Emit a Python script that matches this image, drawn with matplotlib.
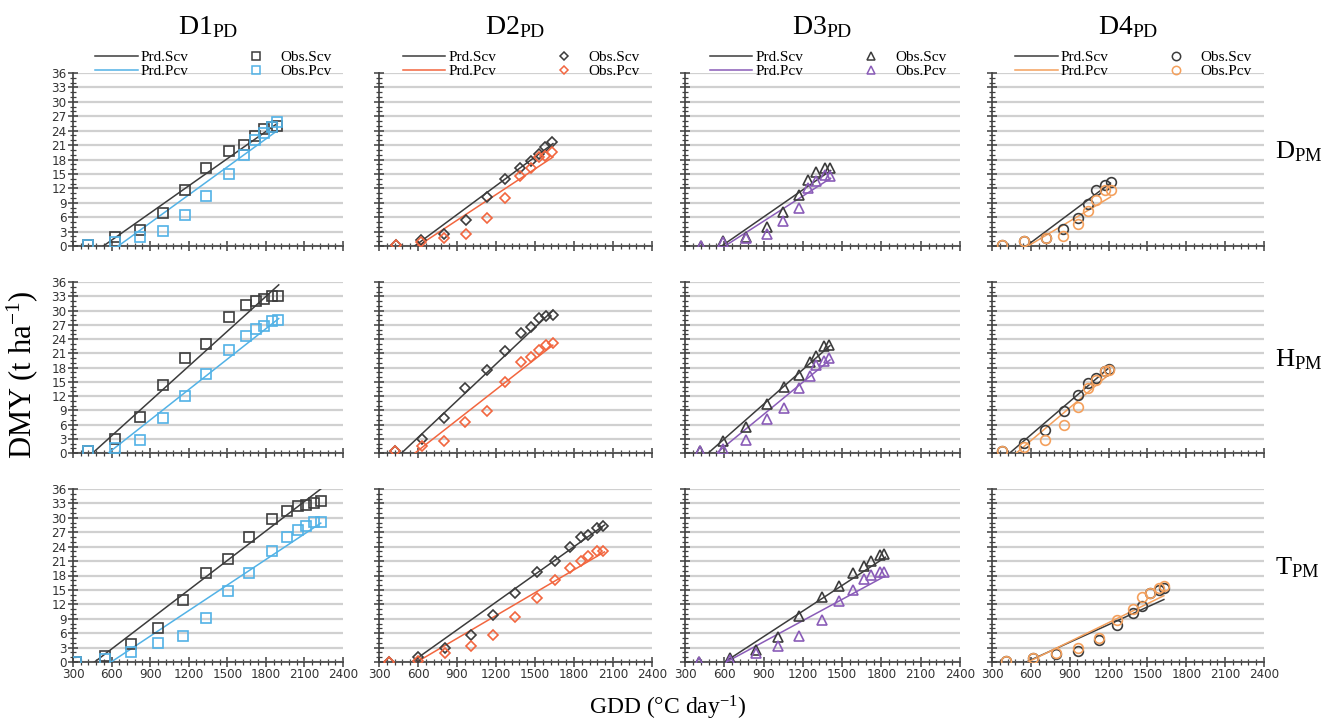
import numpy as np
import matplotlib.pyplot as plt
from matplotlib.ticker import MultipleLocator
from matplotlib.lines import Line2D

plt.rcParams['font.family'] = ['Liberation Serif', 'DejaVu Serif']
plt.rcParams['mathtext.fontset'] = 'custom'
plt.rcParams['mathtext.rm'] = 'Liberation Serif'
plt.rcParams['mathtext.it'] = 'Liberation Serif:italic'

# ---- data: GDD of sampling, observed DMY (Scv / Pcv), predicted lines ----
# D1, row D_PM
d1_d_gdd = [414, 627, 824, 997, 1171, 1337, 1516, 1632, 1716, 1786, 1845, 1889]
d1_d_scv = [0.3, 1.8, 3.3, 6.8, 11.6, 16.2, 19.8, 21.0, 22.9, 24.4, 24.8, 25.0]
d1_d_pcv = [0.3, 0.8, 1.9, 3.1, 6.4, 10.4, 15.0, 18.9, 22.0, 23.6, 24.8, 25.8]
d1_d_prd_s = ([536, 1889], [0, 25.5])
d1_d_prd_p = ([652, 1889], [0, 24.0])
# D1, row H_PM
d1_h_gdd = [414, 627, 824, 997, 1173, 1337, 1516, 1643, 1726, 1786, 1845, 1894]
d1_h_scv = [0.35, 3.0, 7.5, 14.4, 20.0, 23.0, 28.6, 31.1, 31.9, 32.4, 33.0, 33.0]
d1_h_pcv = [0.35, 1.1, 2.8, 7.3, 12.0, 16.6, 21.6, 24.7, 26.1, 26.8, 27.8, 27.9]
d1_h_prd_s = ([453, 1900], [0, 35.4])
d1_h_prd_p = ([575, 1900], [0, 28.3])
# D1, row T_PM
d1_t_gdd = [326, 550, 749, 960, 1159, 1334, 1502, 1665, 1848, 1967, 2052, 2111, 2178, 2225]
d1_t_scv = [0.1, 1.2, 3.7, 7.1, 12.9, 18.6, 21.4, 26.1, 29.7, 31.5, 32.4, 32.6, 33.0, 33.4]
d1_t_pcv = [0.1, 0.6, 2.0, 3.9, 5.5, 9.2, 14.7, 18.5, 23.2, 26.0, 27.5, 28.3, 29.1, 29.2]
d1_t_prd_s = ([468, 2227], [0, 36.0])
d1_t_prd_p = ([597, 2227], [0, 28.9])

# D2
d2_d_gdd = [428, 621, 797, 967, 1128, 1272, 1385, 1469, 1528, 1574, 1633]
d2_d_scv = [0.2, 1.3, 2.4, 5.5, 10.3, 14.0, 16.2, 17.6, 19.2, 20.6, 21.6]
d2_d_pcv = [0.2, 0.8, 1.7, 2.6, 5.8, 9.9, 14.5, 16.2, 18.5, 18.7, 19.5]
d2_d_prd_s = ([574, 1638], [0, 21.3])
d2_d_prd_p = ([600, 1638], [0, 18.5])
d2_h_gdd = [425, 628, 802, 963, 1127, 1268, 1391, 1468, 1532, 1583, 1637]
d2_h_scv = [0.4, 2.9, 7.4, 13.6, 17.4, 21.4, 25.2, 26.6, 28.5, 28.8, 29.0]
d2_h_pcv = [0.4, 1.5, 2.6, 6.5, 8.8, 14.9, 19.1, 20.3, 21.6, 22.8, 23.1]
d2_h_prd_s = ([474, 1637], [0, 30.0])
d2_h_prd_p = ([577, 1637], [0, 22.7])
d2_t_gdd = [377, 599, 808, 1006, 1176, 1346, 1514, 1650, 1771, 1851, 1910, 1980, 2026]
d2_t_scv = [0.1, 1.0, 2.9, 5.7, 9.7, 14.3, 18.7, 21.1, 23.9, 26.0, 26.5, 27.9, 28.3]
d2_t_pcv = [0.1, 0.3, 1.8, 3.4, 5.7, 9.3, 13.4, 17.0, 19.5, 21.1, 22.0, 23.0, 23.0]
d2_t_prd_s = ([553, 2034], [0, 28.5])
d2_t_prd_p = ([591, 2034], [0, 22.9])

# D3
d3_d_gdd = [420, 593, 763, 924, 1051, 1173, 1242, 1303, 1367, 1407]
d3_d_scv = [0.1, 1.0, 1.9, 4.0, 7.1, 10.7, 13.7, 15.5, 16.2, 16.2]
d3_d_pcv = [0.1, 0.9, 1.6, 2.4, 5.3, 7.9, 12.1, 13.5, 14.7, 14.6]
d3_d_prd_s = ([580, 1412], [0, 15.7])
d3_d_prd_p = ([605, 1412], [0, 14.1])
d3_h_gdd = [415, 588, 763, 924, 1056, 1168, 1252, 1303, 1364, 1400]
d3_h_scv = [0.4, 2.5, 5.4, 10.4, 13.9, 16.4, 19.1, 20.4, 22.5, 22.8]
d3_h_pcv = [0.4, 0.8, 2.7, 7.2, 9.5, 13.6, 16.3, 18.6, 19.4, 20.0]
d3_h_prd_s = ([478, 1407], [0, 22.6])
d3_h_prd_p = ([542, 1407], [0, 19.6])
d3_t_gdd = [410, 641, 839, 1009, 1173, 1345, 1476, 1586, 1668, 1722, 1789, 1822]
d3_t_scv = [0.1, 0.8, 2.4, 5.3, 9.5, 13.6, 15.8, 18.5, 19.9, 21.0, 22.2, 22.4]
d3_t_pcv = [0.1, 0.4, 1.8, 3.3, 5.4, 8.7, 12.6, 15.0, 17.3, 18.2, 18.7, 18.8]
d3_t_prd_s = ([603, 1830], [0, 21.8])
d3_t_prd_p = ([616, 1830], [0, 17.9])

# D4
d4_d_gdd = [380, 547, 715, 849, 967, 1045, 1104, 1176, 1215]
d4_d_scv = [0.3, 1.0, 1.7, 3.5, 5.8, 8.8, 11.7, 12.7, 13.3]
d4_d_pcv = [0.3, 1.0, 1.6, 2.1, 4.5, 7.2, 9.6, 11.6, 11.6]
d4_d_prd_s = ([565, 1215], [0, 13.1])
d4_d_prd_p = ([578, 1215], [0, 10.2])
d4_h_gdd = [380, 547, 712, 853, 962, 1044, 1106, 1173, 1206]
d4_h_scv = [0.4, 2.2, 4.9, 8.8, 12.3, 14.8, 15.7, 17.2, 17.7]
d4_h_pcv = [0.4, 1.3, 2.7, 6.0, 9.7, 13.6, 15.4, 17.2, 17.5]
d4_h_prd_s = ([437, 1206], [0, 18.0])
d4_h_prd_p = ([488, 1206], [0, 16.6])
d4_t_gdd = [406, 617, 792, 965, 1127, 1266, 1385, 1457, 1519, 1588, 1627]
d4_t_scv = [0.2, 0.8, 1.6, 2.3, 4.6, 7.7, 10.2, 11.7, 14.4, 14.9, 15.4]
d4_t_pcv = [0.2, 0.9, 1.8, 2.9, 4.9, 8.7, 11.0, 13.5, 14.4, 15.4, 15.9]
d4_t_prd_s = ([565, 1627], [0, 13.0])
d4_t_prd_p = ([578, 1627], [0, 13.8])

col_titles = ['D1', 'D2', 'D3', 'D4']
row_titles = ['D', 'H', 'T']
pcv_colors = ['#52b2e6', '#f2663f', '#8a5cb8', '#f4a05c']
scv_color = '#3c3c3c'
markers = ['s', 'D', '^', 'o']
msizes = [7, 5.5, 7, 7]

panels = [
    [(d1_d_gdd, d1_d_scv, d1_d_pcv, d1_d_prd_s, d1_d_prd_p),
     (d2_d_gdd, d2_d_scv, d2_d_pcv, d2_d_prd_s, d2_d_prd_p),
     (d3_d_gdd, d3_d_scv, d3_d_pcv, d3_d_prd_s, d3_d_prd_p),
     (d4_d_gdd, d4_d_scv, d4_d_pcv, d4_d_prd_s, d4_d_prd_p)],
    [(d1_h_gdd, d1_h_scv, d1_h_pcv, d1_h_prd_s, d1_h_prd_p),
     (d2_h_gdd, d2_h_scv, d2_h_pcv, d2_h_prd_s, d2_h_prd_p),
     (d3_h_gdd, d3_h_scv, d3_h_pcv, d3_h_prd_s, d3_h_prd_p),
     (d4_h_gdd, d4_h_scv, d4_h_pcv, d4_h_prd_s, d4_h_prd_p)],
    [(d1_t_gdd, d1_t_scv, d1_t_pcv, d1_t_prd_s, d1_t_prd_p),
     (d2_t_gdd, d2_t_scv, d2_t_pcv, d2_t_prd_s, d2_t_prd_p),
     (d3_t_gdd, d3_t_scv, d3_t_pcv, d3_t_prd_s, d3_t_prd_p),
     (d4_t_gdd, d4_t_scv, d4_t_pcv, d4_t_prd_s, d4_t_prd_p)],
]

W, H = 1333, 725
col_px = [(73, 343), (379, 652), (685, 960), (992, 1264)]
row_px = [(73, 246), (282, 453), (489, 662)]

fig = plt.figure(figsize=(W / 100, H / 100), dpi=100)

for r in range(3):
    for c in range(4):
        x0, x1 = col_px[c]
        y0, y1 = row_px[r]
        ax = fig.add_axes([x0 / W, 1 - y1 / H, (x1 - x0) / W, (y1 - y0) / H])
        gdd, scv, pcv, prd_s, prd_p = panels[r][c]
        col = pcv_colors[c]

        ax.plot(prd_s[0], prd_s[1], color=scv_color, lw=1.1, zorder=3)
        ax.plot(prd_p[0], prd_p[1], color=col, lw=1.1, zorder=3)
        ax.plot(gdd, scv, ls='none', marker=markers[c], ms=msizes[c], mfc='none',
                mec=scv_color, mew=1.2, zorder=4)
        ax.plot(gdd, pcv, ls='none', marker=markers[c], ms=msizes[c], mfc='none',
                mec=col, mew=1.2, zorder=5)

        ax.set_xlim(300, 2400)
        ax.set_ylim(0, 36)
        ax.set_xticks(np.arange(300, 2401, 300))
        ax.set_yticks(np.arange(0, 37, 3))
        ax.xaxis.set_minor_locator(MultipleLocator(60))
        ax.yaxis.set_minor_locator(MultipleLocator(1))
        ax.yaxis.grid(True, color='#d0d0d0', lw=1.6)
        ax.set_axisbelow(True)
        for s in ['top', 'right']:
            ax.spines[s].set_visible(False)
        for s in ['left', 'bottom']:
            ax.spines[s].set_color('#404040')
            ax.spines[s].set_linewidth(1.2)
        ax.tick_params(which='major', direction='inout', length=7, width=1.1,
                       color='#404040', labelsize=9.5, labelcolor='#333333', pad=1)
        ax.tick_params(which='minor', direction='inout', length=4, width=0.9,
                       color='#404040')
        ax.tick_params(labelleft=(c == 0), labelbottom=(r == 2))
        for lab in ax.get_xticklabels() + ax.get_yticklabels():
            lab.set_family('DejaVu Sans')
            lab.set_stretch('condensed')

        if r == 0:
            handles = [
                Line2D([], [], color=scv_color, lw=1.1),
                Line2D([], [], color=col, lw=1.1),
                Line2D([], [], ls='none', marker=markers[c], ms=msizes[c] - 1,
                       mfc='none', mec=scv_color, mew=1.1),
                Line2D([], [], ls='none', marker=markers[c], ms=msizes[c] - 1,
                       mfc='none', mec=col, mew=1.1),
            ]
            ax.legend(handles, ['Prd.Scv', 'Prd.Pcv', 'Obs.Scv', 'Obs.Pcv'],
                      ncol=2, loc='center', bbox_to_anchor=(0.52, 1.05),
                      frameon=False, fontsize=11, handlelength=2.8,
                      columnspacing=3.0, labelspacing=0.0, handletextpad=0.2,
                      borderpad=0)
            fig.text((x0 + x1) / 2 / W, 1 - 27 / H,
                     col_titles[c] + r'$_{\mathrm{PD}}$', ha='center', va='center',
                     fontsize=20)

        if c == 3:
            fig.text(1275 / W, 1 - ((y0 + y1) / 2 - 8) / H,
                     row_titles[r] + r'$_{\mathrm{PM}}$', ha='left', va='center',
                     fontsize=19)

fig.text(22 / W, 1 - 375 / H, r'DMY (t ha$^{\mathrm{-1}}$)', rotation=90,
         ha='center', va='center', fontsize=22)
fig.text(668 / W, 1 - 708 / H, r'GDD (°C day$^{\mathrm{-1}}$)', ha='center',
         va='center', fontsize=17)

fig.savefig('out.png', dpi=100)
